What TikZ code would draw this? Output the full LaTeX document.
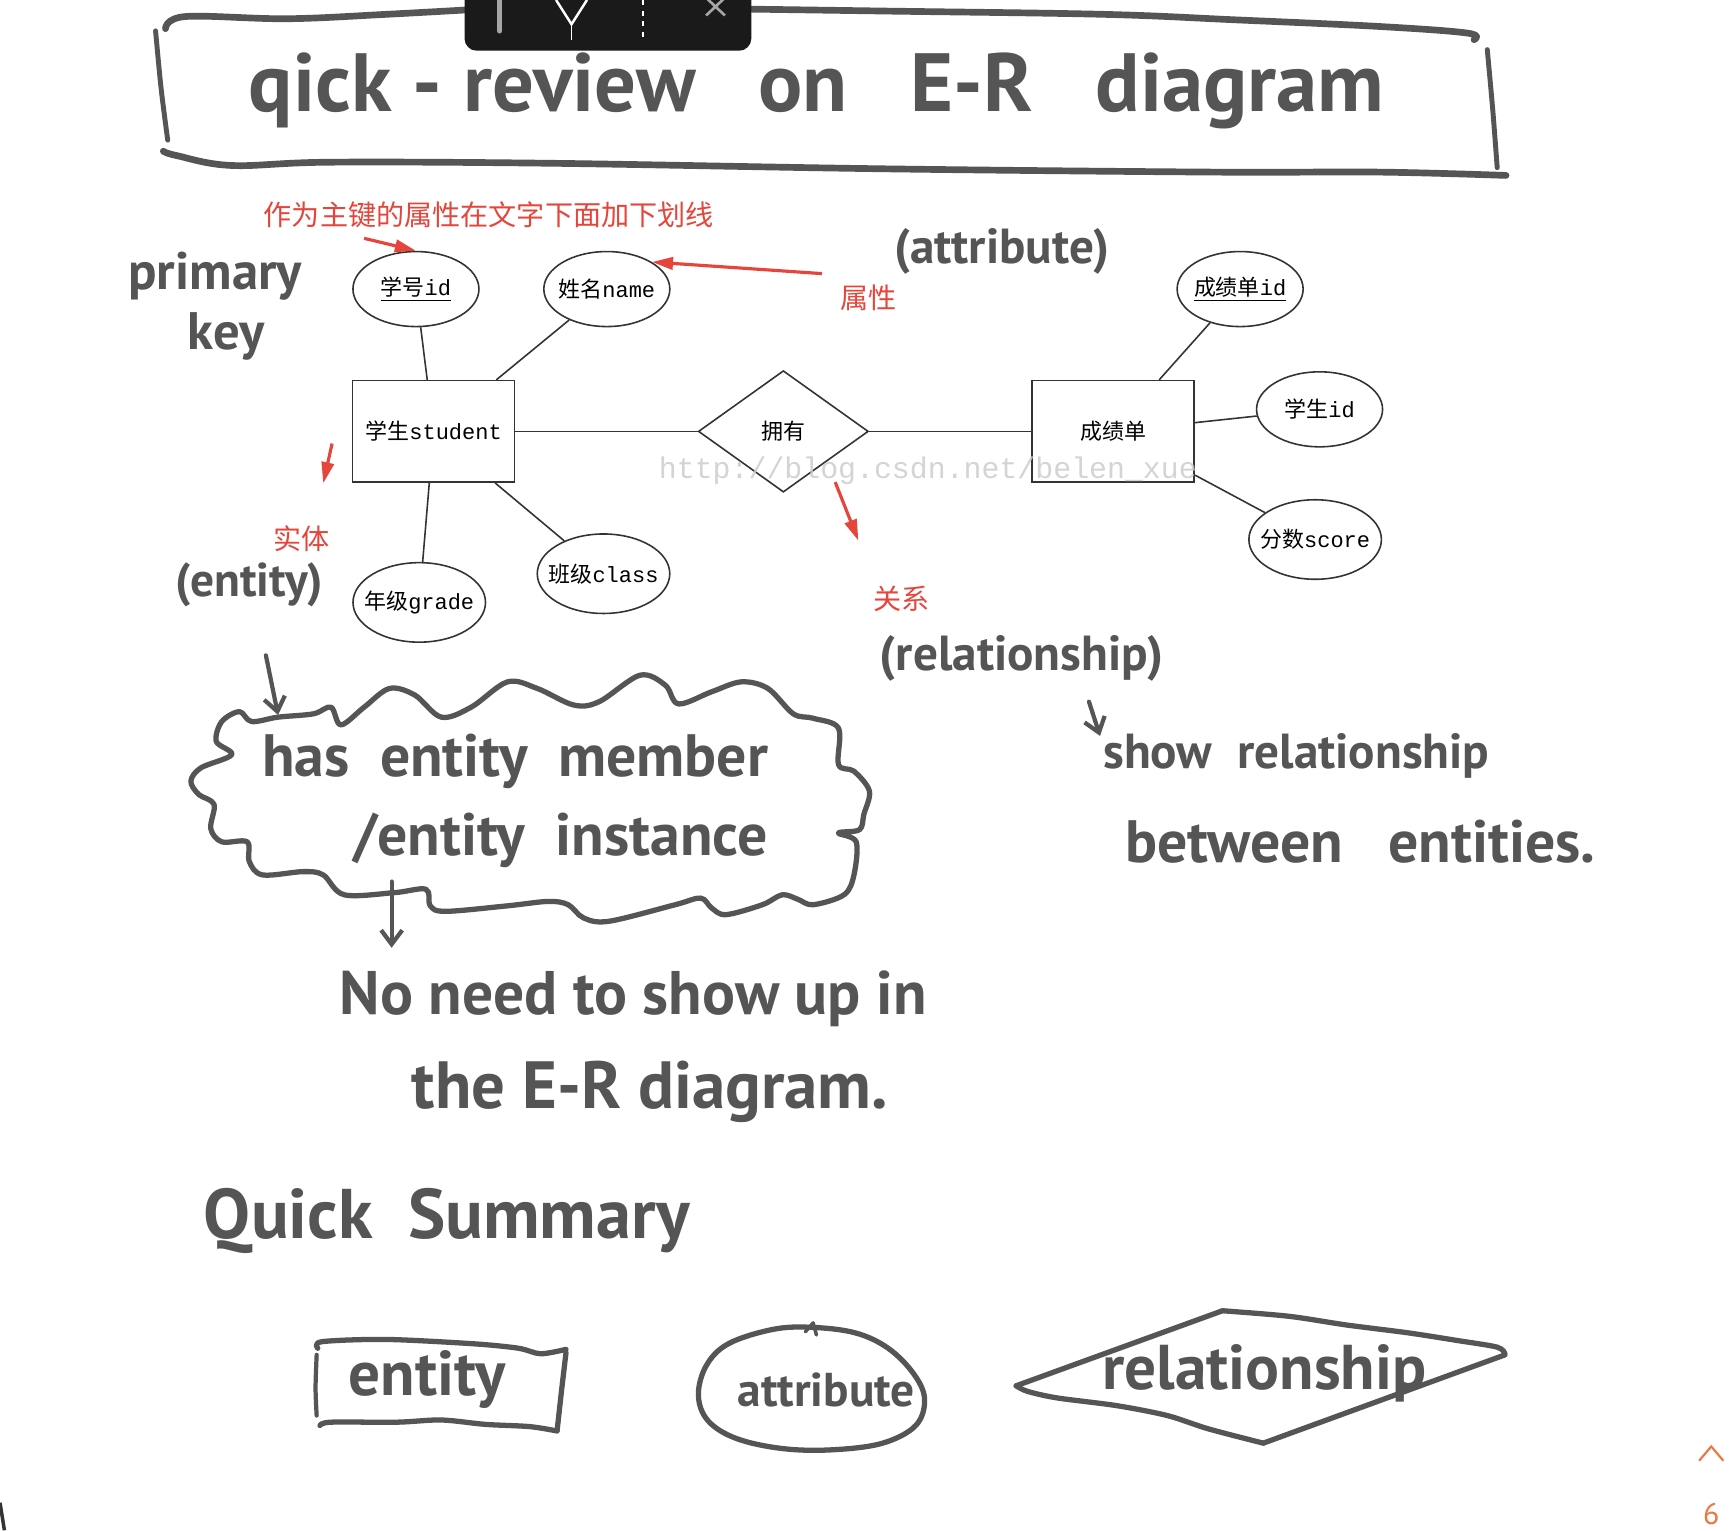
\documentclass[tikz,border=0pt]{standalone}
\usepackage{fontspec}
\setmonofont{Liberation Mono}
\newfontfamily\cjk{Noto Sans CJK SC}
\newfontfamily\handfont{PT Sans}
\usetikzlibrary{shapes.geometric, arrows.meta}
\definecolor{ink}{HTML}{555555}
\definecolor{erline}{HTML}{333333}
\definecolor{notered}{HTML}{E5453B}
\definecolor{wmgrey}{HTML}{CDCDCD}
\definecolor{barblack}{HTML}{1A1A1A}
\definecolor{pageorange}{HTML}{F0743E}
\tikzset{
  erfont/.style    = {font=\fontsize{12.5}{14}\selectfont},      % printed diagram text
  entitybox/.style = {rectangle, draw=erline, line width=0.9pt,
                      minimum width=3.24cm, minimum height=2.03cm, erfont},
  attr/.style      = {ellipse, draw=erline, line width=0.9pt,
                      inner xsep=-10pt, inner ysep=0pt,
                      minimum width=2.52cm, minimum height=1.5cm, erfont},
  bigattr/.style   = {attr, minimum width=2.65cm, minimum height=1.59cm},
  relation/.style  = {diamond, draw=erline, line width=0.9pt, inner sep=0pt,
                      minimum width=3.4cm, minimum height=2.43cm, erfont},
  link/.style      = {draw=erline, line width=0.9pt},
  note/.style      = {text=notered, font=\cjk\fontsize{16}{18}\selectfont},
  redarrow/.style  = {draw=notered, line width=1.8pt,
                      -{Triangle[length=12pt,width=7pt]}},
  hand/.style      = {text=ink, inner sep=0pt,
                      font=\handfont\bfseries\fontsize{#1}{#1}\selectfont},
  pen/.style       = {draw=ink, line width=3pt, line cap=round, line join=round},
  penarrow/.style  = {pen, line width=2.4pt,
                      -{Straight Barb[length=8pt,width=12pt]}}
}
\begin{document}
\begin{tikzpicture}[x=0.022066cm, y=-0.022066cm]
  \fill[white] (0,0) rectangle (1568,1387);
  \useasboundingbox (0,0) rectangle (1568,1387);
  % title frame
  \draw[pen, line width=3.8pt] plot[smooth, tension=0.6] coordinates
    {(150,26) (168,15) (260,17) (350,13) (440,8)};
  \draw[pen, line width=3.8pt] plot[smooth, tension=0.6] coordinates
    {(660,8) (800,10) (1000,13) (1120,18) (1250,24) (1330,30) (1336,36)};
  \draw[pen, line width=2.8pt] plot[smooth] coordinates {(141,28) (146,80) (152,127)};
  \draw[pen, line width=2.8pt] plot[smooth] coordinates {(1348,45) (1353,100) (1357,152)};
  \draw[pen, line width=3.8pt] plot[smooth, tension=0.6] coordinates
    {(148,137) (160,141) (210,150) (300,147) (500,148) (800,153) (1100,156) (1250,156) (1365,159)};
  \node[hand=47] (title) at (740,82) {qick - review \ \ on \ \ E-R \ \ diagram};
  % screenshot toolbar
  \fill[barblack, rounded corners=7pt] (421,-20) rectangle (681,46);
  \draw[gray!70, line width=3pt, line cap=round] (453,0) -- (453,28);
  \draw[white, line width=1.4pt] (504,0) -- (518,22) -- (532,0);
  \draw[white, line width=1pt] (518,22) -- (518,36);
  \draw[white, line width=1pt, dashed] (583,0) -- (583,36);
  \draw[gray!70, line width=1.5pt] (640,-2) -- (657,14) (657,-2) -- (640,14);

  % printed E-R diagram
  \node[entitybox] (stu) at (393,391) {{\cjk 学生}\texttt{student}};
  \node[relation] (own) at (710,391) {{\cjk 拥有}};
  \node[entitybox] (rep) at (1009,391) {{\cjk 成绩单}};
  \node[attr] (sid) at (377,262) {\underline{{\cjk 学号}\texttt{id}}};
  \node[attr] (sname) at (550,262) {{\cjk 姓名}\texttt{name}};
  \node[bigattr] (grade) at (380,546) {{\cjk 年级}\texttt{grade}};
  \node[bigattr] (class) at (547,520) {{\cjk 班级}\texttt{class}};
  \node[attr] (rid) at (1124,262) {\underline{{\cjk 成绩单}\texttt{id}}};
  \node[attr] (rsid) at (1196,371) {{\cjk 学生}\texttt{id}};
  \node[bigattr] (score) at (1192,489) {{\cjk 分数}\texttt{score}};
  \foreach \a in {sid, sname, grade, class}
    \draw[link] (\a) -- (stu);
  \foreach \a in {rid, rsid, score}
    \draw[link] (\a) -- (rep);
  \draw[link] (stu) -- (own);
  \draw[link] (own) -- (rep);
  \node[text=wmgrey, opacity=0.85, font=\ttfamily\fontsize{17}{17}\selectfont]
    (mark) at (841,427) {http://blog.csdn.net/belen\_xue};

  % red notes
  \node[note] (pknote) at (443,195) {作为主键的属性在文字下面加下划线};
  \node[note] (attrnote) at (787,270) {属性};
  \node[note] (entnote) at (273,488) {实体};
  \node[note] (relnote) at (817,543) {关系};
  \coordinate (pkfrom) at (330,216);
  \coordinate (attrfrom) at (745,248);
  \coordinate (entfrom) at (301,402);
  \coordinate (relfrom) at (757,437);
  \draw[redarrow] (pkfrom) -- (sid.north);
  \draw[redarrow] (attrfrom) -- (sname.north east);
  \draw[redarrow] (entfrom) -- (293,438);
  \draw[redarrow] (relfrom) -- (778,490);

  % handwriting round the diagram
  \node[hand=30] (pk1) at (195,250) {primary};
  \node[hand=30] (pk2) at (205,305) {key};
  \node[hand=28] (attrword) at (908,228) {(attribute)};
  \node[hand=27] (entword) at (226,530) {(entity)};
  \node[hand=28] (relword) at (926,597) {(relationship)};

  % cloud
  \draw[pen] plot[smooth cycle, tension=0.55] coordinates {
    (217,645) (228,654) (252,650) (284,647) (300,641) (309,657) (330,641)
    (353,624) (376,630) (400,650) (427,641) (460,618) (487,624) (520,639)
    (543,636) (580,612) (603,621) (615,638) (645,627) (672,618) (696,624)
    (719,647) (737,651) (760,660) (760,693) (774,699) (788,717) (783,738)
    (779,752) (760,755) (776,763) (774,793) (765,811) (737,820) (723,815)
    (709,811) (691,820) (658,829) (645,823) (635,814) (612,820) (552,835)
    (529,832) (515,820) (497,817) (460,821) (404,826) (390,821) (386,806)
    (358,809) (312,811) (293,793) (275,790) (238,793) (226,781) (224,763)
    (201,763) (191,751) (194,729) (180,720) (173,708) (182,696) (210,684)
    (196,672) (201,654)};
  \node[hand=34] (cloud1) at (467,690) {has \ entity \ member};
  \node[hand=34] (cloud2) at (508,762) {/entity \ instance};
  \coordinate (intop) at (241,594);
  \coordinate (inbot) at (252,648);
  \draw[penarrow] (intop) -- (inbot);
  \coordinate (outtop) at (355,799);
  \coordinate (outbot) at (355,859);
  \draw[penarrow] (outtop) -- (outbot);
  \node[hand=35] (need1) at (574,905) {No need to show up in};
  \node[hand=38] (need2) at (589,990) {the E-R diagram.};
  \coordinate (reltop) at (987,636);
  \coordinate (relbot) at (997,667);
  \draw[penarrow] (reltop) -- (relbot);
  \node[hand=28] (show1) at (1175,685) {show \ relationship};
  \node[hand=34] (show2) at (1233,763) {between \ \ entities.};

  % quick summary
  \node[hand=40] (summary) at (405,1107) {Quick \ Summary};
  \draw[pen] plot[smooth] coordinates
    {(288,1222) (292,1216) (350,1214) (430,1218) (470,1222) (490,1227) (513,1223)};
  \draw[pen] plot[smooth] coordinates {(513,1226) (509,1260) (505,1296)};
  \draw[pen, line width=2.4pt] plot[smooth] coordinates {(287,1228) (286,1258) (287,1283)};
  \draw[pen] plot[smooth] coordinates
    {(290,1292) (300,1289) (360,1289) (400,1287) (440,1291) (480,1293) (505,1297)};
  \node[hand=36] (sumentity) at (387,1250) {entity};
  \draw[pen] plot[smooth cycle, tension=0.6] coordinates
    {(735,1203) (775,1208) (805,1222) (828,1245) (838,1268) (830,1292) (800,1308)
     (755,1314) (710,1313) (668,1304) (642,1288) (633,1265) (640,1238) (660,1218) (700,1205)};
  \draw[pen, line width=2pt] (730,1207) -- (737,1199) -- (740,1210);
  \node[hand=27] (sumattr) at (749,1260) {attribute};
  \draw[pen] (921,1256) -- (1108,1188);
  \draw[pen] plot[smooth] coordinates
    {(1108,1188) (1168,1193) (1221,1201) (1276,1208) (1321,1215) (1357,1221) (1364,1227)};
  \draw[pen] (1364,1228) -- (1145,1308);
  \draw[pen] plot[smooth] coordinates
    {(1145,1308) (1095,1295) (1058,1283) (1012,1274) (958,1267) (931,1261) (921,1256)};
  \node[hand=36] (sumrel) at (1146,1245) {relationship};

  % page corner marks
  \draw[pageorange, line width=1.2pt] (1540,1324) -- (1551,1311) -- (1562,1324);
  \node[text=pageorange, font=\handfont\fontsize{17}{17}\selectfont] (pagenum) at (1551,1372) {6};
  \draw[erline, line width=2pt] (0,1362) -- (4,1387);
\end{tikzpicture}
\end{document}
